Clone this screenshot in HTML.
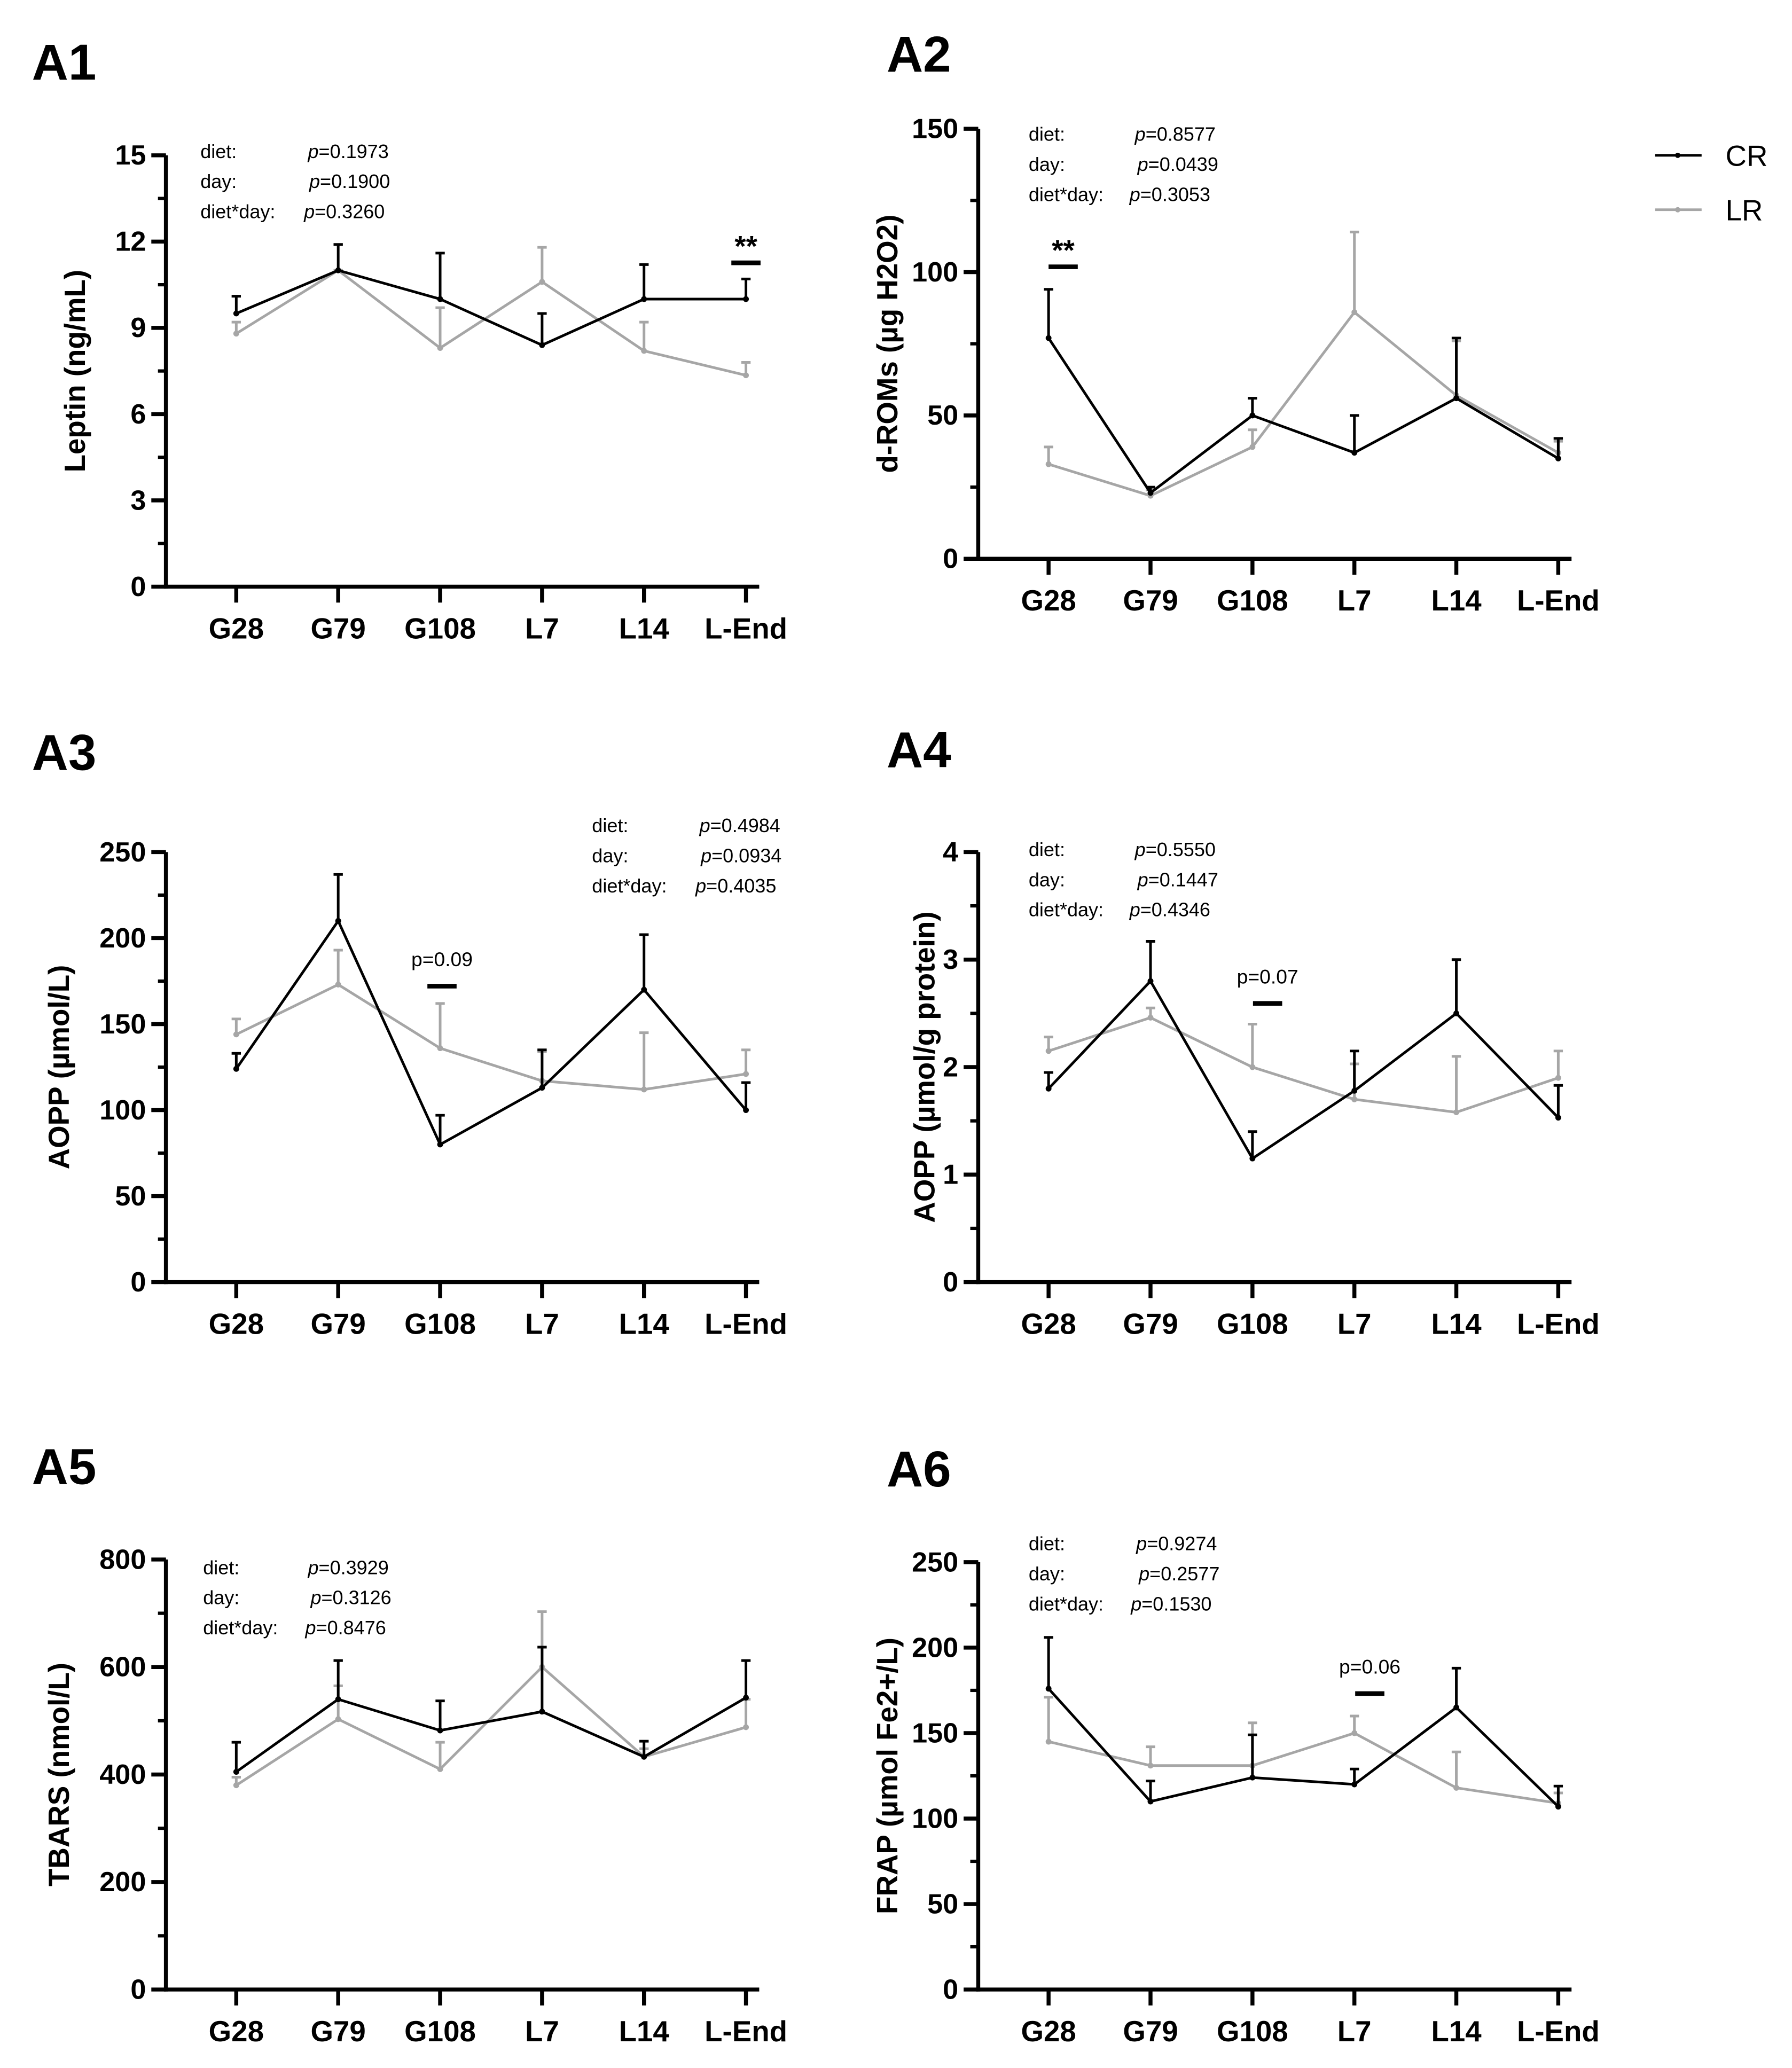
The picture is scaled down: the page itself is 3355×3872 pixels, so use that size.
<!DOCTYPE html>
<html><head><meta charset="utf-8"><style>
html,body{margin:0;padding:0;background:#fff;}
svg{display:block;}
text{font-family:"Liberation Sans",Arial,sans-serif;}
</style></head><body>
<svg id="fig" width="3355" height="3872" viewBox="0 0 1350.1 1558.1" xmlns="http://www.w3.org/2000/svg">
<rect width="1350.1" height="1558.1" fill="#fff"/>
</svg>
<script>
const categories = ["G28","G79","G108","L7","L14","L-End"];
const a1CR = [9.5,11.0,10.0,8.4,10.0,10.0];
const a1CRerr = [10.1,11.9,11.6,9.5,11.2,10.7];
const a1LR = [8.8,11.0,8.3,10.6,8.2,7.35];
const a1LRerr = [9.2,11.0,9.7,11.8,9.2,7.8];
const a2CR = [77,23,50,37,56,35];
const a2CRerr = [94,25,56,50,77,42];
const a2LR = [33,22,39,86,57,37];
const a2LRerr = [39,24,45,114,76,41];
const a3CR = [124,210,80,113,170,100];
const a3CRerr = [133,237,97,135,202,116];
const a3LR = [144,173,136,117,112,121];
const a3LRerr = [153,193,162,134,145,135];
const a4CR = [1.8,2.8,1.15,1.78,2.5,1.53];
const a4CRerr = [1.95,3.17,1.4,2.15,3.0,1.83];
const a4LR = [2.15,2.46,2.0,1.7,1.58,1.9];
const a4LRerr = [2.28,2.55,2.4,2.03,2.1,2.15];
const a5CR = [405,540,482,517,433,543];
const a5CRerr = [460,612,537,637,462,612];
const a5LR = [380,503,410,600,433,488];
const a5LRerr = [395,565,460,703,448,540];
const a6CR = [176,110,124,120,165,107];
const a6CRerr = [206,122,149,129,188,119];
const a6LR = [145,131,131,150,118,109];
const a6LRerr = [171,142,156,160,139,115];
const a1Ticks = [0,3,6,9,12,15];
const a2Ticks = [0,50,100,150];
const a3Ticks = [0,50,100,150,200,250];
const a4Ticks = [0,1,2,3,4];
const a5Ticks = [0,200,400,600,800];
const a6Ticks = [0,50,100,150,200,250];

const NS="http://www.w3.org/2000/svg";
const svg=document.getElementById('fig');
function mk(tag,attrs,parent,txt){const e=document.createElementNS(NS,tag);for(const k in attrs)e.setAttribute(k,attrs[k]);if(txt!==undefined)e.textContent=txt;(parent||svg).appendChild(e);return e;}

function panel(cfg){
  const g=mk('g',{});
  
  
  const {ax,top,bot,max,ticks,minor}=cfg;
  const y=v=>bot-(v/max)*(bot-top);
  const x0=ax+53, dx=76.8;
  const x=i=>x0+i*dx;
  const xEnd=ax+447;
  const lab=mk('text',{x:cfg.lx,y:cfg.ly,'font-size':38,'font-weight':'bold'},g,cfg.id);
  
  
  // axes
  const ya=mk('line',{x1:ax,y1:top,x2:ax,y2:bot+1.5,stroke:'#000','stroke-width':3},g);
  
  
  const xa=mk('line',{x1:ax-1.5,y1:bot,x2:xEnd,y2:bot,stroke:'#000','stroke-width':3},g);
  
  
  for(let v=0;v<=max+1e-9;v+=minor){
    mk('line',{x1:ax-6,y1:y(v),x2:ax,y2:y(v),stroke:'#000','stroke-width':2.5},g);
  }
  ticks.forEach(t=>{
    mk('line',{x1:ax-11,y1:y(t),x2:ax,y2:y(t),stroke:'#000','stroke-width':3},g);
    const tl=mk('text',{x:ax-15,y:y(t)+7,'font-size':21,'font-weight':'bold','text-anchor':'end'},g,String(t));
    
    
  });
  categories.forEach((c,i)=>{
    mk('line',{x1:x(i),y1:bot,x2:x(i),y2:bot+12,stroke:'#000','stroke-width':3},g);
    const cl=mk('text',{x:x(i),y:bot+39,'font-size':22,'font-weight':'bold','text-anchor':'middle'},g,c);
    
    
  });
  const yt=mk('text',{x:0,y:0,'font-size':22,'font-weight':'bold','text-anchor':'middle',transform:`translate(${cfg.tx},${(top+bot)/2}) rotate(-90)`},g,cfg.title);
  
  
  // series
  [[cfg.lr,cfg.lrErr,'#a6a6a6','lr'],[cfg.cr,cfg.crErr,'#000','cr']].forEach(([vals,errs,col,nm])=>{
    vals.forEach((v,i)=>{
      const eb=mk('path',{d:`M${x(i)},${y(v)}V${y(errs[i])}M${x(i)-3.5},${y(errs[i])}H${x(i)+3.5}`,stroke:col,'stroke-width':2,fill:'none'},g);
      
      
    });
    const pl=mk('polyline',{points:vals.map((v,i)=>x(i)+','+y(v)).join(' '),stroke:col,'stroke-width':2,fill:'none'},g);
    
    
    vals.forEach((v,i)=>{
      const p=mk('circle',{cx:x(i),cy:y(v),r:2.2,fill:col},g);
      
      
    });
  });
  // stats
  const st=mk('g',{'font-size':14.5},g);
  
  
  const lbls=['diet:','day:','diet*day:'];
  cfg.stats.forEach((p,k)=>{
    const yy=cfg.sy+k*22.7;
    mk('text',{x:cfg.sx,y:yy},st,lbls[k]);
    const t=mk('text',{x:cfg.sx+cfg.pdx[k],y:yy},st);
    mk('tspan',{'font-style':'italic'},t,'p');
    mk('tspan',{},t,'='+p);
  });
  if(cfg.sig){
    const s=cfg.sig;
    const sg=mk('g',{},g);
    
    
    mk('line',{x1:s.x-11,y1:s.by,x2:s.x+11,y2:s.by,stroke:'#000','stroke-width':3.5},sg);
    if(s.t==='**') mk('text',{x:s.x,y:s.by-5,'font-size':22,'font-weight':'bold','text-anchor':'middle'},sg,'**');
    else mk('text',{x:s.x,y:s.by-15,'font-size':15,'text-anchor':'middle'},sg,s.t);
  }
}
panel({id:'A1',lx:24,ly:60,ax:125,top:117,bot:442,max:15,ticks:a1Ticks,minor:1.5,title:'Leptin (ng/mL)',tx:64,
  cr:a1CR,crErr:a1CRerr,lr:a1LR,lrErr:a1LRerr,stats:['0.1973','0.1900','0.3260'],sx:151,sy:119,pdx:[81,82,78],sig:{x:562,by:198,t:'**'}});
panel({id:'A2',lx:668,ly:54,ax:737,top:97,bot:421,max:150,ticks:a2Ticks,minor:25,title:'d-ROMs (µg H2O2)',tx:676,
  cr:a2CR,crErr:a2CRerr,lr:a2LR,lrErr:a2LRerr,stats:['0.8577','0.0439','0.3053'],sx:775,sy:106,pdx:[80,82,76],sig:{x:801,by:201,t:'**'}});
panel({id:'A3',lx:24,ly:580,ax:125,top:642,bot:966,max:250,ticks:a3Ticks,minor:25,title:'AOPP (µmol/L)',tx:52,
  cr:a3CR,crErr:a3CRerr,lr:a3LR,lrErr:a3LRerr,stats:['0.4984','0.0934','0.4035'],sx:446,sy:627,pdx:[81,82,78],sig:{x:333,by:743,t:'p=0.09'}});
panel({id:'A4',lx:668,ly:578,ax:737,top:642,bot:966,max:4,ticks:a4Ticks,minor:0.5,title:'AOPP (µmol/g protein)',tx:704,
  cr:a4CR,crErr:a4CRerr,lr:a4LR,lrErr:a4LRerr,stats:['0.5550','0.1447','0.4346'],sx:775,sy:645,pdx:[80,82,76],sig:{x:955,by:756,t:'p=0.07'}});
panel({id:'A5',lx:24,ly:1118,ax:125,top:1175,bot:1499,max:800,ticks:a5Ticks,minor:100,title:'TBARS (nmol/L)',tx:52,
  cr:a5CR,crErr:a5CRerr,lr:a5LR,lrErr:a5LRerr,stats:['0.3929','0.3126','0.8476'],sx:153,sy:1186,pdx:[79,81,77],sig:null});
panel({id:'A6',lx:668,ly:1120,ax:737,top:1177,bot:1499,max:250,ticks:a6Ticks,minor:25,title:'FRAP (µmol Fe2+/L)',tx:676,
  cr:a6CR,crErr:a6CRerr,lr:a6LR,lrErr:a6LRerr,stats:['0.9274','0.2577','0.1530'],sx:775,sy:1168,pdx:[81,83,77],sig:{x:1032,by:1276,t:'p=0.06'}});
// legend
const lg=mk('g',{});


[['CR','#000',117],['LR','#a6a6a6',158]].forEach(([n,c,yy])=>{
  const e=mk('g',{},lg);
  
  
  mk('line',{x1:1247,y1:yy,x2:1282,y2:yy,stroke:c,'stroke-width':2},e);
  mk('circle',{cx:1264,cy:yy,r:2,fill:c},e);
  mk('text',{x:1300,y:yy+8,'font-size':22},e,n);
});
</script>
</body></html>
